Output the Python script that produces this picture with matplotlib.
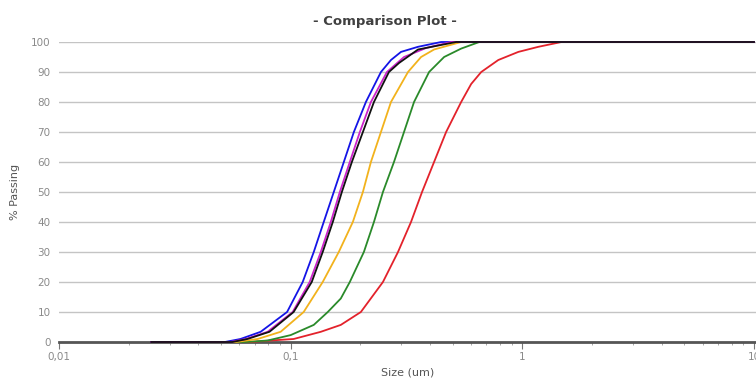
import matplotlib
matplotlib.use("Agg")
import matplotlib.pyplot as plt
from matplotlib.ticker import FixedLocator, LogLocator, NullFormatter

# Cumulative % passing vs size (um), one pair of lists per sample
blue_size = [0.025, 0.052, 0.0607, 0.0742, 0.0965, 0.1127, 0.1258, 0.1389, 0.1535,
             0.1696, 0.1874, 0.2112, 0.2453, 0.271, 0.2994, 0.3546, 0.4461, 10]
blue_pct = [0, 0, 1, 3.4, 10, 20, 30, 40, 50, 60, 70, 80, 90, 94, 96.7, 98.4, 100, 100]

magenta_size = [0.025, 0.055, 0.064, 0.0795, 0.102, 0.1208, 0.1349, 0.149, 0.163,
                0.180, 0.1989, 0.222, 0.2603, 0.3085, 0.384, 0.4927, 10]
magenta_pct = [0, 0, 1, 3.4, 10, 20, 30, 40, 50, 60, 70, 80, 90, 95, 98, 100, 100]

black_size = [0.025, 0.056, 0.065, 0.081, 0.103, 0.1233, 0.1375, 0.152, 0.1663,
              0.1837, 0.205, 0.2288, 0.2656, 0.2935, 0.3546, 0.518, 10]
black_pct = [0, 0, 1, 3.4, 10, 20, 30, 40, 50, 60, 70, 80, 90, 93, 97.5, 100, 100]

orange_size = [0.025, 0.058, 0.072, 0.0905, 0.1138, 0.1375, 0.1613, 0.1855, 0.205,
               0.222, 0.2453, 0.271, 0.321, 0.3655, 0.4159, 0.544, 10]
orange_pct = [0, 0, 1, 3.4, 10, 20, 30, 40, 50, 60, 70, 80, 90, 95, 97.5, 100, 100]

green_size = [0.025, 0.0639, 0.0795, 0.1, 0.1258, 0.1446, 0.1646, 0.18, 0.207, 0.2288,
              0.2502, 0.2792, 0.3085, 0.3408, 0.3958, 0.4596, 0.5444, 0.6517, 10]
green_pct = [0, 0, 0.5, 2.3, 5.7, 10, 14.5, 20, 30, 40, 50, 60, 70, 80, 90, 95, 97.8,
             100, 100]

red_size = [0.025, 0.0671, 0.0819, 0.103, 0.1349, 0.1646, 0.2009, 0.2502, 0.2906,
            0.3307, 0.369, 0.4159, 0.4688, 0.5444, 0.6013, 0.6646, 0.7875, 0.961,
            1.173, 1.475, 10]
red_pct = [0, 0, 0.5, 1, 3.4, 5.7, 10, 20, 30, 40, 50, 60, 70, 80, 86, 90, 94, 96.7,
           98.4, 100, 100]

series = [
    (red_size, red_pct, "#e3222b"),
    (green_size, green_pct, "#2a8a2a"),
    (orange_size, orange_pct, "#f2b21c"),
    (blue_size, blue_pct, "#1414e6"),
    (magenta_size, magenta_pct, "#cc22cc"),
    (black_size, black_pct, "#111111"),
]

x_ticks = [0.01, 0.1, 1, 10]
x_labels = ["0,01", "0,1", "1", "10"]
y_ticks = [0, 10, 20, 30, 40, 50, 60, 70, 80, 90, 100]

fig = plt.figure(figsize=(7.56, 3.78), dpi=100)
ax = fig.add_axes([59 / 756, 36 / 378, 697 / 756, 300 / 378])

for sizes, pct, color in series:
    ax.plot(sizes, pct, color=color, linewidth=1.3, zorder=3, clip_on=False)

ax.set_xscale("log")
ax.set_xlim(0.01, 10.2)
ax.set_ylim(0, 100)

ax.xaxis.set_major_locator(FixedLocator(x_ticks))
ax.set_xticklabels(x_labels)
ax.xaxis.set_minor_locator(LogLocator(base=10, subs=range(2, 10)))
ax.xaxis.set_minor_formatter(NullFormatter())
ax.set_yticks(y_ticks)

ax.grid(axis="y", color="#c4c4c4", linewidth=1)
ax.set_axisbelow(True)
for side in ("left", "right", "top"):
    ax.spines[side].set_visible(False)
ax.spines["bottom"].set_color("#555555")
ax.spines["bottom"].set_linewidth(2)
ax.spines["bottom"].set_zorder(2)

ax.tick_params(axis="y", length=0, labelsize=7.5, labelcolor="#8a8a8a", pad=6)
ax.tick_params(axis="x", which="major", length=5, color="#777777",
               labelsize=7.5, labelcolor="#8a8a8a", pad=2)
ax.tick_params(axis="x", which="minor", length=2.5, color="#999999")

ax.set_xlabel("Size (um)", fontsize=8, color="#555555", labelpad=4)
ax.set_ylabel("% Passing", fontsize=8, color="#555555", labelpad=8)
fig.text(385 / 756, 1 - 22 / 378, "- Comparison Plot -", ha="center", va="center",
         fontsize=9.5, fontweight="bold", color="#404040")

plt.savefig("out.png", dpi=100)
